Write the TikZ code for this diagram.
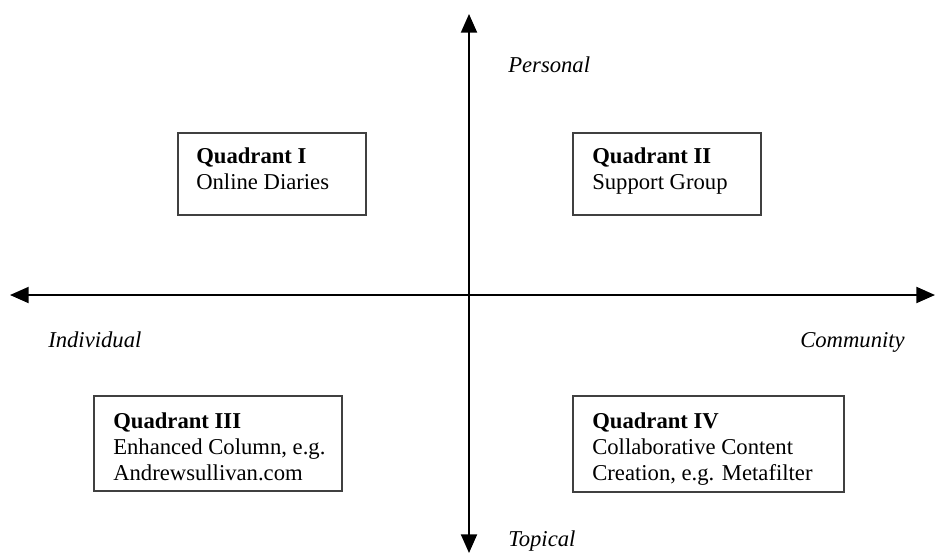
\documentclass[tikz,border=0pt]{standalone}
\usepackage{fontspec}
\setmainfont{Liberation Serif}
\usepackage{tikz}
\usetikzlibrary{arrows.meta}

\begin{document}
\begin{tikzpicture}[
  x=0.75pt,y=-0.75pt,
  axis/.style={{Triangle[length=14pt,width=12pt]}-{Triangle[length=14pt,width=12pt]},line width=1.5pt},
  quadbox/.style={draw=black!75,line width=1.3pt,anchor=north west,inner sep=0pt},
  quadtext/.style={anchor=base west,align=left,inner sep=0pt,
                   font=\fontsize{17}{19.5}\selectfont},
  dimlabel/.style={anchor=base west,inner sep=0pt,
                   font=\fontsize{17}{19.5}\selectfont\itshape}
]
\useasboundingbox (0,0) rectangle (937,557);

% axes
\coordinate (north) at (469,14);
\coordinate (south) at (469,553);
\coordinate (west) at (10,295);
\coordinate (east) at (935,295);
\draw[axis] (south) -- (north);
\draw[axis] (west) -- (east);

\node[dimlabel] (personal) at (508,72) {Personal};
\node[dimlabel] (individual) at (48,347) {Individual};
\node[dimlabel] (community) at (800,347) {Community};
\node[dimlabel] (topical) at (508,546) {Topical};

% quadrants (text anchored on its last baseline)
\node[quadbox,minimum width=141pt,minimum height=61.5pt] (q1) at (177,132) {};
\node[quadbox,minimum width=141pt,minimum height=61.5pt] (q2) at (572,132) {};
\node[quadbox,minimum width=186pt,minimum height=71.25pt] (q3) at (93,395) {};
\node[quadbox,minimum width=203.25pt,minimum height=72pt] (q4) at (572,395) {};

\node[quadtext] (q1t) at (196,189) {\textbf{Quadrant I}\\Online Diaries};
\node[quadtext] (q2t) at (592,189) {\textbf{Quadrant II}\\Support Group};
\node[quadtext] (q3t) at (113,480) {\textbf{Quadrant III}\\Enhanced Column, e.g.\\Andrewsullivan.com};
\node[quadtext] (q4t) at (592,480) {\textbf{Quadrant IV}\\Collaborative Content\\Creation, e.g. Metafilter};
\end{tikzpicture}
\end{document}
